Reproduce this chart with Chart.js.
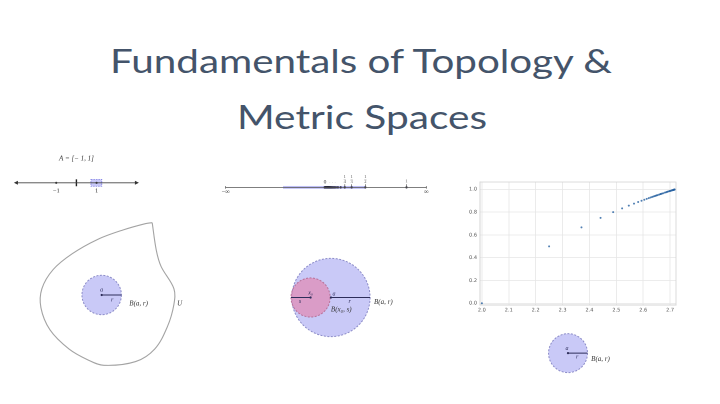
<!DOCTYPE html>
<html>
<head>
<meta charset="utf-8">
<script src="https://cdn.jsdelivr.net/npm/chart.js@4/dist/chart.umd.min.js"></script>
<style>
  html,body{margin:0;padding:0;background:#fff;width:720px;height:404px;overflow:hidden;}
  #stage{position:relative;width:720px;height:404px;}
  canvas{position:absolute;}
  svg{position:absolute;left:0;top:0;}
</style>
</head>
<body>
<div id="stage">
  <svg width="720" height="140">
    <text x="361" y="73" text-anchor="middle" textLength="502" lengthAdjust="spacingAndGlyphs"
      font-family="Lato, 'Open Sans', sans-serif" font-weight="400" font-size="33.5" fill="#44546A">Fundamentals of Topology &amp;</text>
    <text x="362" y="129" text-anchor="middle" textLength="250" lengthAdjust="spacingAndGlyphs"
      font-family="Lato, 'Open Sans', sans-serif" font-weight="400" font-size="33.5" fill="#44546A">Metric Spaces</text>
  </svg>
  <canvas id="cA"></canvas>
  <canvas id="cB"></canvas>
  <canvas id="cU"></canvas>
  <canvas id="cN"></canvas>
  <canvas id="cS"></canvas>
  <canvas id="cE"></canvas>
</div>
<script>
// ---------- DATA ----------
// Scatter: sequence points (x_n, y_n)
const seqX = [2.0000, 2.2500, 2.3704, 2.4414, 2.4883, 2.5216, 2.5465, 2.5658, 2.5812, 2.5937,
              2.6042, 2.6130, 2.6206, 2.6272, 2.6329, 2.6379, 2.6424, 2.6464, 2.6500, 2.6533,
              2.6590, 2.6637, 2.6658, 2.6696, 2.6743, 2.6804, 2.6851, 2.6887, 2.6916, 2.6960,
              2.6991, 2.7015, 2.7048, 2.7070, 2.7093, 2.7115, 2.7129, 2.7138, 2.7149, 2.7156,
              2.7163, 2.7169];
const seqY = [0.0000, 0.5000, 0.6667, 0.7500, 0.8000, 0.8333, 0.8571, 0.8750, 0.8889, 0.9000,
              0.9091, 0.9167, 0.9231, 0.9286, 0.9333, 0.9375, 0.9412, 0.9444, 0.9474, 0.9500,
              0.9545, 0.9583, 0.9600, 0.9630, 0.9667, 0.9714, 0.9750, 0.9778, 0.9800, 0.9833,
              0.9857, 0.9875, 0.9900, 0.9917, 0.9933, 0.9950, 0.9960, 0.9967, 0.9975, 0.9980,
              0.9986, 0.9990];
const scatterXTicks = [2.0, 2.1, 2.2, 2.3, 2.4, 2.5, 2.6, 2.7];
const scatterYTicks = [0.0, 0.2, 0.4, 0.6, 0.8, 1.0];

// Number line A = [-1, 1]
const lineAExtent = [-2.95, 2.95];
const lineAPoints = [-1, 1];
const lineATicks = [0];
const lineALabels = ['\u22121', '1'];
const lineANbhd = [0.72, 1.26];

// Number line with the sequence 1/n
const lineBExtent = [-1.198, 1.241];
const recipSeq = [1, 0.5, 0.3333, 0.25, 0.2, 0.1667, 0.1429, 0.125, 0.1111, 0.1, 0.0909, 0.0833,
                  0.0769, 0.0714, 0.0667, 0.0625, 0.0588, 0.0556, 0.0526, 0.05, 0.0455, 0.0417,
                  0.0385, 0.0357, 0.0333, 0.0294, 0.025, 0.0208, 0.0167, 0.0125, 0.01, 0.005];
const recipTicks = [1, 0.5, 0.3333, 0.25];
const recipTickDen = ['1', '2', '3', '4'];
const lineBBand = [-0.5, 0.5];

// Open set U and ball B(a, r)  (units: r = 1)
const blobX = [2.56, 2.77, 3.01, 3.66, 3.66, 3.33, 2.69, 1.72, 0.11, -0.69, -1.66, -2.62, -3.08, -3.03, -2.46, -1.50, -0.21, 1.08, 2.21, 2.56];
const blobY = [3.67, 2.26, 1.45, 0.32, -0.48, -1.61, -2.74, -3.38, -3.57, -3.30, -2.74, -1.77, -0.64, 0.32, 1.29, 2.09, 2.82, 3.30, 3.62, 3.67];
const ballU = [0, 0, 1];           // centre x, centre y, radius

// Nested balls B(a, r) and B(x0, s)
const ballBig = [0, 0, 1];
const ballSmall = [-0.52, 0, 0.5];

// Lone ball B(a, r)
const ballE = [0, 0, 1];

// ---------- STYLE ----------
const BALL_FILL = '#c9c9f7', BALL_EDGE = '#8c8cc8';
const PINK_FILL = 'rgba(232,118,160,0.55)', PINK_EDGE = '#b8729a';
const INK = '#2d2d5a';
const MATH = 'italic 7px "Liberation Serif", "DejaVu Serif", serif';
const MATHS = 'italic 6px "Liberation Serif", "DejaVu Serif", serif';
const ROMAN = '6.5px "Liberation Serif", "DejaVu Serif", serif';
const TINY = '4.5px "Liberation Serif", serif';

const scenePlugin = {
  id: 'scene',
  beforeDatasetsDraw(chart, args, o) {
    const ctx = chart.ctx, X = chart.scales.x, Y = chart.scales.y;
    const u = X.getPixelForValue(1) - X.getPixelForValue(0);
    ctx.save();
    (o.rects || []).forEach(r => {
      const x0 = X.getPixelForValue(r.x0), x1 = X.getPixelForValue(r.x1);
      const y0 = Y.getPixelForValue(r.y1), y1 = Y.getPixelForValue(r.y0);
      ctx.fillStyle = r.fill; ctx.fillRect(x0, y0, x1 - x0, y1 - y0);
      if (r.stroke) { ctx.setLineDash([1.5, 1]); ctx.strokeStyle = r.stroke; ctx.lineWidth = 0.7; ctx.strokeRect(x0, y0, x1 - x0, y1 - y0); }
    });
    (o.circles || []).forEach(c => {
      ctx.beginPath();
      ctx.arc(X.getPixelForValue(c.b[0]), Y.getPixelForValue(c.b[1]), c.b[2] * u, 0, Math.PI * 2);
      ctx.fillStyle = c.fill; ctx.fill();
      ctx.setLineDash([2, 1.5]); ctx.strokeStyle = c.stroke; ctx.lineWidth = 1; ctx.stroke();
    });
    ctx.restore();
  },
  afterDatasetsDraw(chart, args, o) {
    const ctx = chart.ctx, X = chart.scales.x, Y = chart.scales.y;
    ctx.save();
    (o.arrows || []).forEach(a => {
      const px = X.getPixelForValue(a.x), py = Y.getPixelForValue(a.y), d = a.dir;
      ctx.beginPath(); ctx.moveTo(px + 3 * d, py); ctx.lineTo(px - 1 * d, py - 2); ctx.lineTo(px - 1 * d, py + 2); ctx.closePath();
      ctx.fillStyle = '#333'; ctx.fill();
    });
    (o.texts || []).forEach(t => {
      ctx.font = t.font || MATH; ctx.fillStyle = t.color || '#333';
      ctx.textAlign = t.align || 'center'; ctx.textBaseline = 'middle';
      ctx.fillText(t.t, X.getPixelForValue(t.x), Y.getPixelForValue(t.y));
    });
    ctx.restore();
  }
};

function scene(id, box, xr, yr, datasets, sceneOpts) {
  const cv = document.getElementById(id);
  cv.style.left = box[0] + 'px'; cv.style.top = box[1] + 'px';
  cv.width = box[2]; cv.height = box[3];
  return new Chart(cv, {
    type: 'scatter',
    data: { datasets },
    options: {
      responsive: false, animation: false, devicePixelRatio: 2,
      layout: { padding: 0 },
      plugins: { legend: { display: false }, tooltip: { enabled: false }, scene: sceneOpts },
      scales: {
        x: { type: 'linear', display: false, min: xr[0], max: xr[1] },
        y: { type: 'linear', display: false, min: yr[0], max: yr[1] }
      }
    },
    plugins: [scenePlugin]
  });
}
const seg = (pts, color, w) => ({ data: pts, showLine: true, borderColor: color, borderWidth: w, pointRadius: 0, clip: false });
const dots = (pts, color, r) => ({ data: pts, showLine: false, pointRadius: r, pointBackgroundColor: color, pointBorderWidth: 0, clip: false });

// ---- Number line A ----
scene('cA', [5, 145, 145, 60], [-3.342, 3.450], [-21, 39], [
  seg(lineAExtent.map(x => ({ x, y: 0 })), '#444', 0.8),
  seg([{ x: lineATicks[0], y: -4 }, { x: lineATicks[0], y: 4 }], '#222', 1.4),
  dots(lineAPoints.map(x => ({ x, y: 0 })), '#222', 1.1)
], {
  rects: [{ x0: lineANbhd[0], x1: lineANbhd[1], y0: -4, y1: 4, fill: 'rgba(120,120,240,0.40)', stroke: '#7a7ae0' }],
  arrows: [{ x: lineAExtent[0], y: 0, dir: -1 }, { x: lineAExtent[1], y: 0, dir: 1 }],
  texts: [
    { t: 'A = [\u2212 1, 1]', x: 0, y: 28, font: MATH },
    { t: lineALabels[0], x: lineAPoints[0], y: -9, font: ROMAN },
    { t: lineALabels[1], x: lineAPoints[1], y: -9, font: ROMAN }
  ]
});

// ---- Number line with 1/n ----
const tickSegs = recipTicks.map(v => seg([{ x: v, y: 0 }, { x: v, y: 4 }], '#555', 0.7));
scene('cB', [210, 165, 235, 40], [-1.339, 1.419], [-17, 23], [
  seg(lineBExtent.map(x => ({ x, y: 0 })), '#555', 0.8),
  seg([{ x: lineBExtent[0], y: -1.5 }, { x: lineBExtent[0], y: 1.5 }], '#555', 0.8),
  seg([{ x: lineBExtent[1], y: -1.5 }, { x: lineBExtent[1], y: 1.5 }], '#555', 0.8),
  ...tickSegs,
  dots(recipSeq.map(x => ({ x, y: 0 })), '#1a1a2e', 1.1)
], {
  rects: [{ x0: lineBBand[0], x1: lineBBand[1], y0: -1.8, y1: 1.8, fill: 'rgba(110,110,235,0.45)' }],
  texts: [
    { t: '\u2212\u221e', x: lineBExtent[0], y: -5.5, font: ROMAN },
    { t: '\u221e', x: lineBExtent[1], y: -5.5, font: ROMAN },
    { t: '0', x: 0.01, y: 6.5, font: '5.5px "Liberation Serif", serif' },
    { t: '\u00b7 \u00b7 \u00b7', x: 0.1, y: 6, font: TINY, color: '#888' },
    ...recipTicks.map((v, i) => ({ t: '1', x: v, y: i === 0 ? 7.5 : 13, font: TINY, color: '#555' })),
    ...recipTicks.map((v, i) => ({ t: i === 0 ? '' : '\u2013', x: v, y: 10, font: TINY, color: '#555' })),
    ...recipTicks.map((v, i) => ({ t: i === 0 ? '' : recipTickDen[i], x: v, y: 6.8, font: TINY, color: '#555' }))
  ]
});

// ---- Open set U with ball ----
scene('cU', [30, 212, 170, 164], [-3.43, 4.78], [-3.91, 4.01], [
  { data: blobX.map((x, i) => ({ x, y: blobY[i] })), showLine: true, tension: 0.35, borderColor: '#a3a3a3', borderWidth: 1.1, pointRadius: 0, clip: false },
  seg([{ x: ballU[0], y: ballU[1] }, { x: ballU[0] + ballU[2], y: ballU[1] }], INK, 1),
  dots([{ x: ballU[0], y: ballU[1] }], INK, 1.1)
], {
  circles: [{ b: ballU, fill: BALL_FILL, stroke: BALL_EDGE }],
  texts: [
    { t: 'a', x: 0, y: 0.25, font: MATHS, color: INK },
    { t: 'r', x: 0.53, y: -0.24, font: MATHS, color: INK },
    { t: 'B(a, r)', x: 1.4, y: -0.43, align: 'left', font: MATH },
    { t: 'U', x: 3.95, y: -0.43, font: MATH }
  ]
});

// ---- Nested balls ----
scene('cN', [280, 250, 130, 95], [-1.199, 1.918], [-1.139, 1.139], [
  seg([{ x: ballSmall[0] - ballSmall[2], y: 0 }, { x: ballSmall[0], y: 0 }], INK, 1),
  seg([{ x: ballBig[0], y: 0 }, { x: ballBig[0] + ballBig[2], y: 0 }], INK, 1),
  dots([{ x: ballBig[0], y: ballBig[1] }, { x: ballSmall[0], y: ballSmall[1] }], INK, 1.1)
], {
  circles: [{ b: ballBig, fill: BALL_FILL, stroke: BALL_EDGE }, { b: ballSmall, fill: PINK_FILL, stroke: PINK_EDGE }],
  texts: [
    { t: 'x\u2080', x: ballSmall[0], y: 0.12, font: MATHS, color: INK },
    { t: 's', x: -0.79, y: -0.1, font: MATHS, color: INK },
    { t: 'a', x: 0.08, y: 0.1, font: MATHS, color: INK },
    { t: 'r', x: 0.48, y: -0.1, font: MATHS, color: INK },
    { t: 'B(x\u2080, s)', x: 0.0, y: -0.32, align: 'left', font: MATH },
    { t: 'B(a, r)', x: 1.1, y: -0.12, align: 'left', font: MATH }
  ]
});

// ---- Lone ball ----
scene('cE', [540, 328, 85, 52], [-1.233, 2.721], [-1.256, 1.163], [
  seg([{ x: ballE[0], y: 0 }, { x: ballE[0] + ballE[2], y: 0 }], INK, 1),
  dots([{ x: ballE[0], y: ballE[1] }], INK, 1.1)
], {
  circles: [{ b: ballE, fill: BALL_FILL, stroke: BALL_EDGE }],
  texts: [
    { t: 'a', x: -0.05, y: 0.25, font: MATHS, color: INK },
    { t: 'r', x: 0.47, y: -0.2, font: MATHS, color: INK },
    { t: 'B(a, r)', x: 1.19, y: -0.33, align: 'left', font: MATH }
  ]
});

// ---- Scatter plot ----
const frame = {
  id: 'frame',
  afterDraw(chart) {
    const { ctx, chartArea: a } = chart;
    ctx.save(); ctx.strokeStyle = '#d4d4d4'; ctx.lineWidth = 0.8;
    ctx.strokeRect(a.left, a.top, a.right - a.left, a.bottom - a.top); ctx.restore();
  }
};
(function () {
  const cv = document.getElementById('cS');
  cv.style.left = '462px'; cv.style.top = '176px'; cv.width = 228; cv.height = 144;
  const tickFont = { size: 5, family: '"DejaVu Sans", sans-serif' };
  new Chart(cv, {
    type: 'scatter',
    data: { datasets: [{
      data: seqX.map((x, i) => ({ x, y: seqY[i] })),
      pointRadius: 1.0, pointBorderWidth: 0, pointBackgroundColor: 'rgba(38,96,160,0.8)'
    }] },
    options: {
      responsive: false, animation: false, devicePixelRatio: 2,
      layout: { padding: { left: 4, right: 14, top: 6, bottom: 3 } },
      plugins: { legend: { display: false }, tooltip: { enabled: false } },
      scales: {
        x: {
          type: 'linear', min: 1.993, max: 2.722,
          afterBuildTicks: s => { s.ticks = scatterXTicks.map(v => ({ value: v })); },
          afterFit: s => { s.height = 12; },
          ticks: { font: tickFont, color: '#555', padding: 2, maxRotation: 0, autoSkip: false, callback: v => v.toFixed(1) },
          grid: { color: '#e6e6e6', lineWidth: 0.8, drawTicks: false },
          border: { color: '#d4d4d4' }
        },
        y: {
          type: 'linear', min: -0.015, max: 1.065,
          afterBuildTicks: s => { s.ticks = scatterYTicks.map(v => ({ value: v })); },
          afterFit: s => { s.width = 14; },
          ticks: { font: tickFont, color: '#555', padding: 3, autoSkip: false, callback: v => v.toFixed(1) },
          grid: { color: '#e6e6e6', lineWidth: 0.8, drawTicks: false },
          border: { color: '#d4d4d4' }
        }
      }
    },
    plugins: [frame]
  });
})();
</script>
</body>
</html>
